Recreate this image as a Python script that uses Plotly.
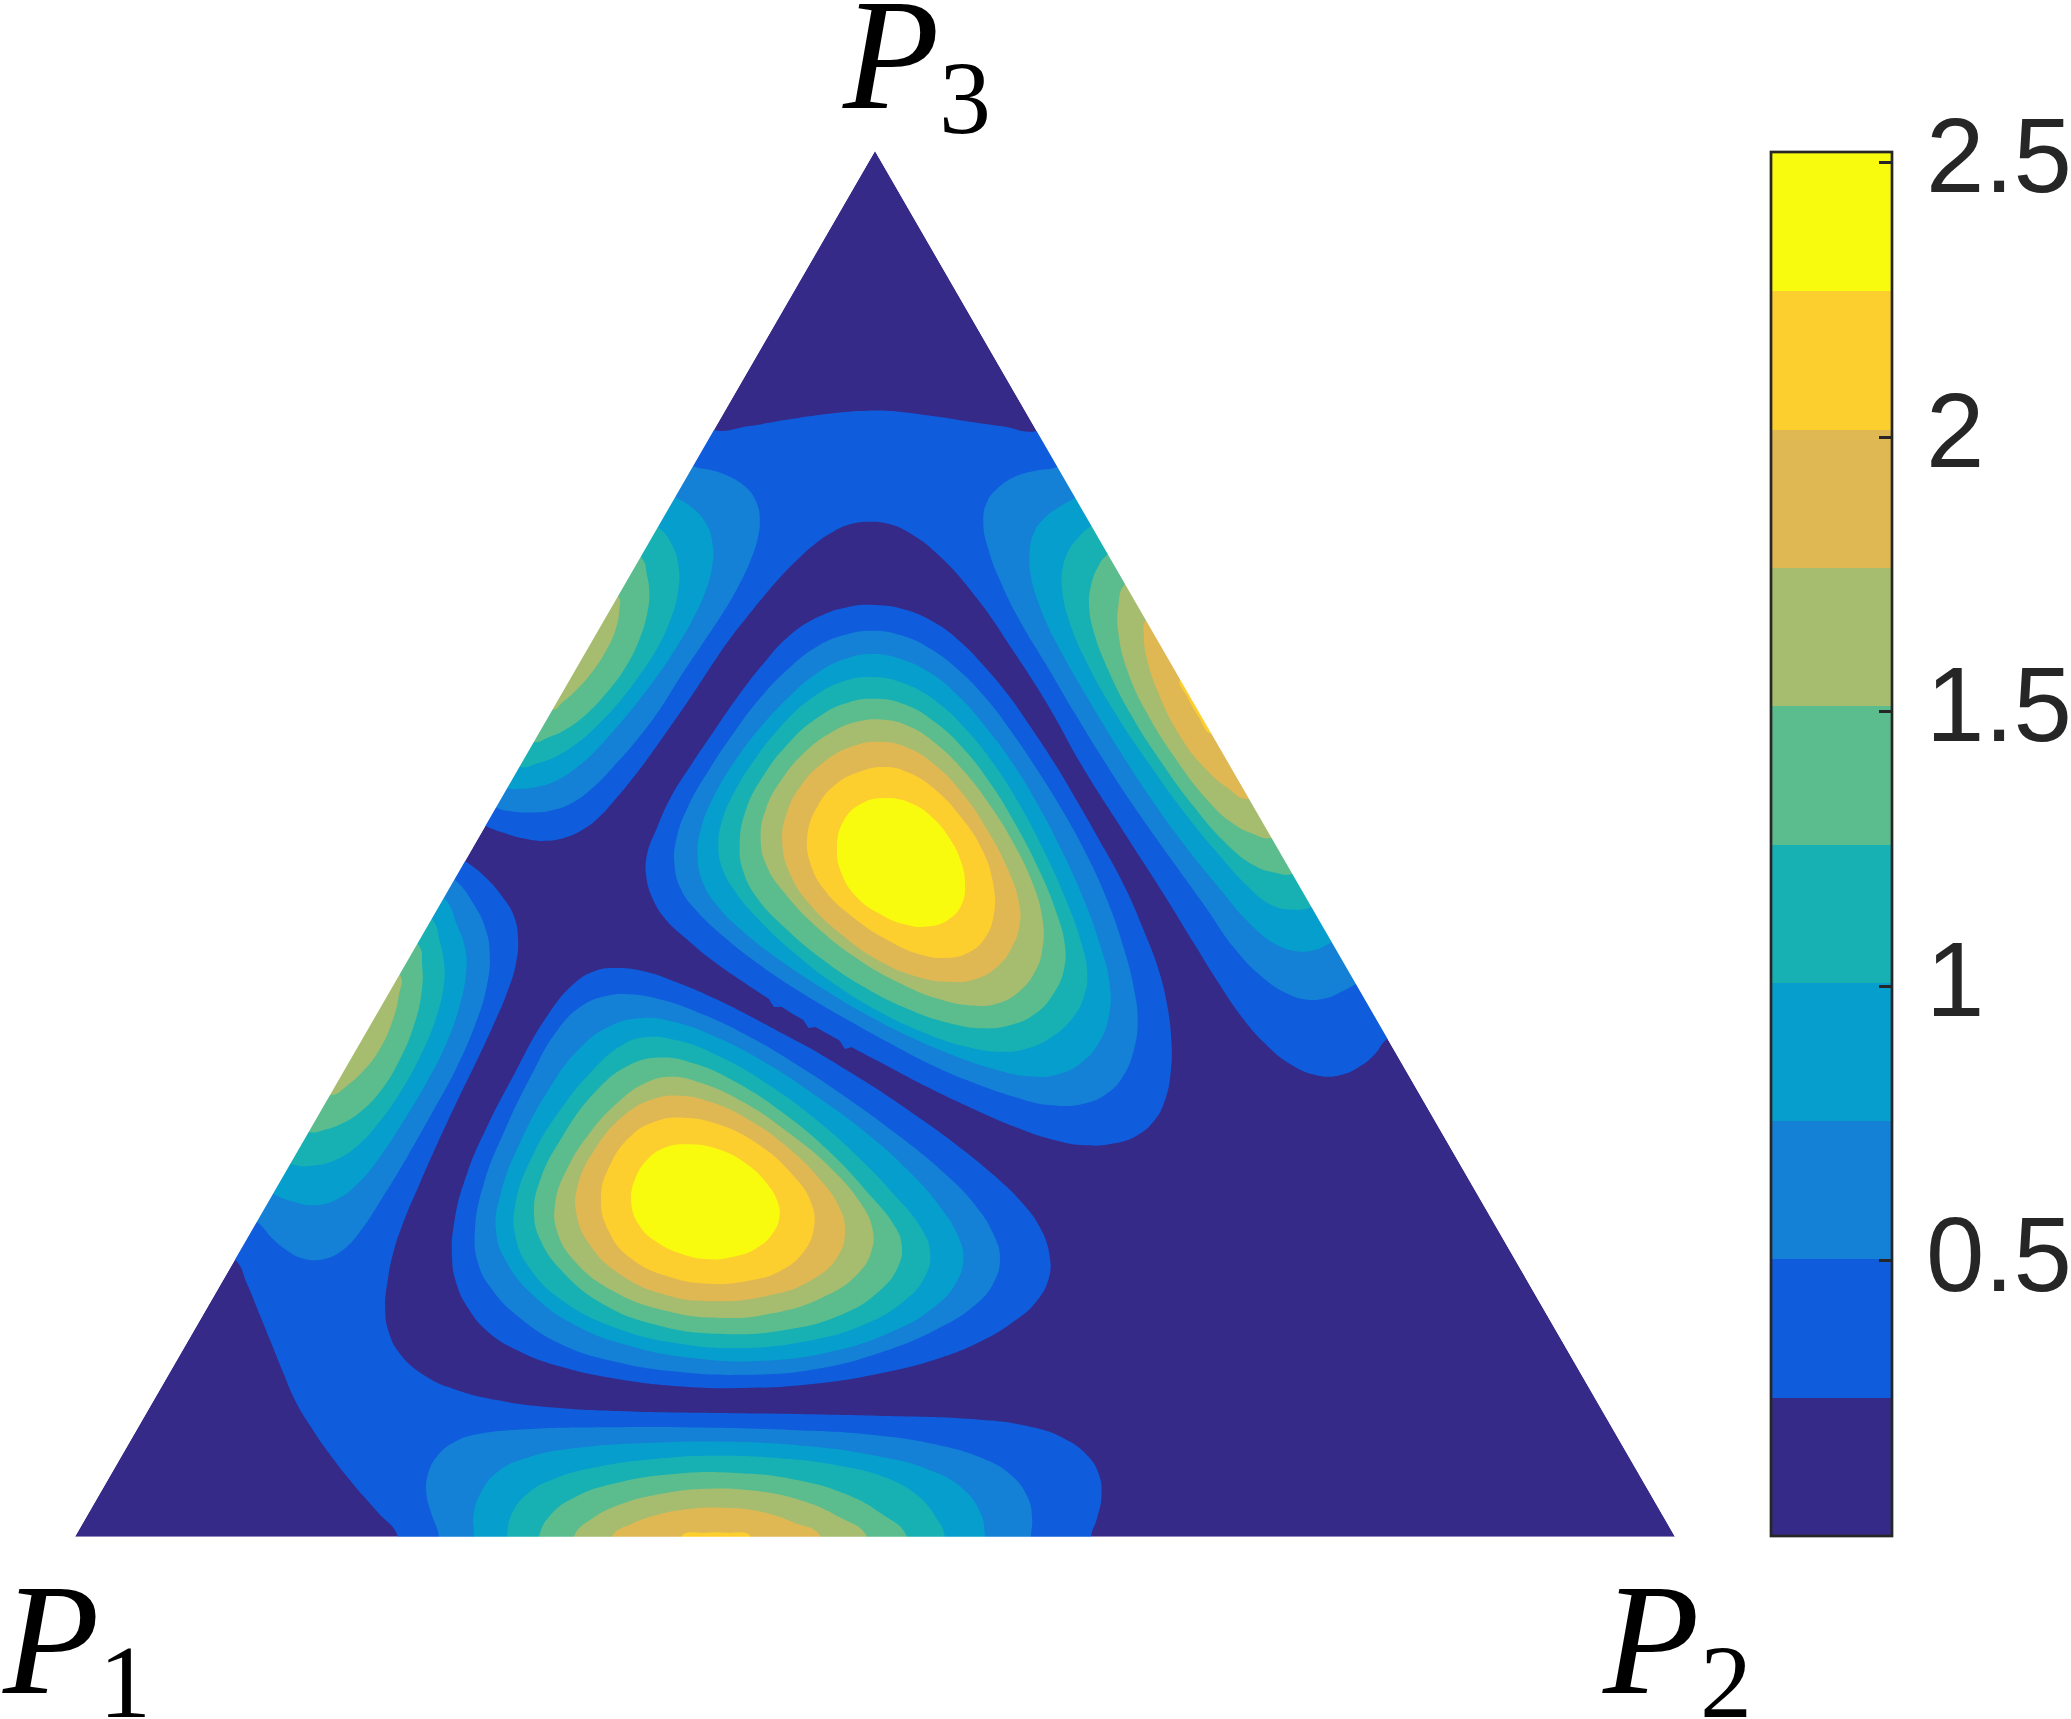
import plotly.graph_objects as go

# Outlines; axis units equal reference pixels (y grows downward).
TRIANGLE = [(75, 1536.7), (1675, 1536.7), (875, 151)]
BAND_COLORS = ["#352a87", "#0f5cdd", "#1481d6", "#069fcd", "#17b1b4",
               "#5bbd8e", "#a6bd6f", "#e0b853", "#fdcf2e", "#f9fb0e"]
BAND_EDGES = [-0.002, 0.25, 0.502, 0.754, 1.006, 1.258, 1.51, 1.762, 2.014, 2.266, 2.52]
TICK_VALUES = [0.5, 1, 1.5, 2, 2.5]
TICK_TEXT = ["0.5", "1", "1.5", "2", "2.5"]
TICK_BASELINES = [1290.7, 1016, 741.5, 466.7, 191.7]

# level 1, upper band (two open arcs)
A1_TOP = [(714, 430), (747, 427), (783, 420), (830, 413), (870, 410), (897, 411), (933, 416),
          (977, 423), (1000, 426), (1037, 431)]
A1_INNER = [(1387, 1039), (1375, 1055), (1362, 1066), (1340, 1077), (1317, 1077), (1290, 1066),
            (1263, 1043), (1240, 1016), (1217, 981), (1193, 942), (1167, 899), (1143, 862),
            (1117, 821), (1083, 770), (1047, 701), (1013, 651), (980, 600), (940, 554),
            (910, 532), (890, 523), (870, 521), (850, 523), (830, 533), (813, 545), (797, 560),
            (780, 577), (763, 597), (747, 617), (730, 638), (713, 663), (697, 688), (680, 713),
            (663, 737), (647, 760), (630, 782), (613, 802), (600, 817), (587, 828), (567, 838),
            (547, 842), (523, 839), (503, 833), (486, 826)]
# level 1, lower band (two open arcs)
B1_INNER = [(465, 861), (487, 877), (503, 897), (515, 915), (519, 936), (517, 965), (507, 994),
            (493, 1026), (477, 1061), (457, 1101), (437, 1144), (420, 1183), (403, 1222),
            (393, 1251), (387, 1283), (384, 1308), (388, 1333), (397, 1354), (428, 1380),
            (455, 1390), (496, 1401), (549, 1408), (631, 1412), (719, 1413), (807, 1414),
            (889, 1416), (971, 1418), (1030, 1425), (1065, 1437), (1089, 1455), (1100, 1473),
            (1103, 1495), (1097, 1520), (1091, 1536.7)]
B1_OUTER = [(398, 1536.7), (378, 1512), (355, 1487), (331, 1457), (308, 1423), (294, 1400),
            (283, 1372), (270, 1340), (257, 1308), (247, 1283), (235.5, 1260)]

# upper-left lobe on the P1-P3 edge, levels 2..6
UL2 = [(693, 466), (713, 470), (732, 477), (747, 487), (757, 500), (761, 520), (758, 540),
       (750, 563), (737, 590), (720, 618), (703, 643), (683, 672), (657, 715), (637, 740),
       (617, 763), (597, 785), (573, 804), (553, 811), (530, 813), (512, 812), (497, 808)]
UL3 = [(675, 497), (693, 507), (708, 523), (714, 547), (713, 565), (707, 590), (693, 620),
       (677, 647), (657, 677), (637, 703), (617, 727), (597, 750), (577, 768), (557, 782),
       (533, 788), (520, 789), (507, 788)]
UL4 = [(658, 527), (673, 543), (680, 567), (679, 593), (670, 623), (657, 650), (640, 675),
       (620, 702), (600, 723), (580, 742), (557, 757), (537, 764), (520, 767)]
UL5 = [(641, 557), (648, 577), (650, 593), (648, 613), (640, 640), (627, 667), (607, 693),
       (587, 715), (563, 732), (547, 738), (534, 742)]
UL6 = [(618, 596), (620, 610), (617, 628), (607, 650), (593, 672), (577, 690), (563, 702),
       (552, 710)]

# lower-left lobe on the P1-P3 edge, levels 2..6
LL2 = [(455, 880), (475, 904), (487, 929), (491, 954), (488, 986), (477, 1022), (457, 1069),
       (433, 1111), (407, 1158), (383, 1197), (360, 1233), (344, 1251), (323, 1261), (303, 1260),
       (287, 1251), (273, 1240), (257, 1222)]
LL3 = [(444, 898), (458, 926), (467, 951), (467, 972), (460, 1008), (447, 1044), (427, 1083),
       (403, 1122), (380, 1158), (357, 1186), (337, 1201), (315, 1207), (292, 1202), (273, 1194)]
LL4 = [(432, 919), (440, 940), (445, 965), (445, 983), (437, 1019), (420, 1058), (400, 1094),
       (380, 1122), (358, 1147), (338, 1160), (315, 1167), (291, 1164)]
LL5 = [(418, 944), (423, 965), (423, 990), (415, 1026), (400, 1061), (380, 1094), (360, 1113),
       (343, 1124), (323, 1131), (309, 1132)]
LL6 = [(400, 975), (400, 994), (393, 1022), (380, 1051), (363, 1072), (348, 1086), (330, 1095)]

# right lobe on the P2-P3 edge, levels 2..8
R2 = [(1057, 467), (1037, 470), (1013, 476), (997, 488), (985, 502), (982, 522), (987, 548),
      (1000, 582), (1020, 623), (1047, 665), (1073, 711), (1107, 766), (1140, 816), (1173, 862),
      (1207, 908), (1233, 949), (1260, 977), (1287, 995), (1307, 1001), (1327, 999), (1343, 991),
      (1356, 984)]
R3 = [(1075, 498), (1060, 506), (1043, 518), (1033, 532), (1029, 550), (1029, 573), (1040, 610),
      (1060, 651), (1087, 697), (1117, 747), (1150, 798), (1183, 844), (1217, 885), (1250, 926),
      (1277, 947), (1297, 952), (1313, 952), (1332, 942)]
R4 = [(1091, 526), (1077, 538), (1067, 552), (1062, 568), (1061, 587), (1067, 619), (1087, 665),
      (1113, 711), (1147, 761), (1183, 812), (1217, 853), (1250, 890), (1270, 906), (1290, 911),
      (1312, 907)]
R5 = [(1108, 554), (1097, 566), (1090, 587), (1088, 605), (1093, 633), (1107, 669), (1130, 715),
      (1160, 761), (1193, 807), (1227, 846), (1253, 867), (1277, 874), (1292, 874)]
R6 = [(1125, 584), (1117, 605), (1117, 633), (1127, 674), (1147, 715), (1173, 756), (1207, 802),
      (1233, 825), (1253, 835), (1272, 838)]
R7 = [(1146, 620), (1143, 633), (1145, 655), (1157, 692), (1177, 734), (1203, 768), (1227, 789),
      (1249, 799)]
R8 = [(1180, 679), (1187, 697), (1198, 717), (1212, 734)]

# bottom lobe on the P1-P2 edge, levels 2..8
BT2 = [(439, 1536.7), (431, 1513), (425, 1493), (427, 1473), (436, 1455), (455, 1440), (478, 1433),
       (519, 1429), (601, 1427), (701, 1427), (795, 1430), (866, 1433), (936, 1443), (983, 1457),
       (1012, 1473), (1030, 1497), (1033, 1520), (1031, 1536.7)]
BT3 = [(474, 1536.7), (472, 1513), (481, 1490), (496, 1470), (525, 1457), (572, 1447), (654, 1442),
       (731, 1441), (807, 1445), (877, 1455), (930, 1468), (965, 1487), (983, 1513), (985, 1536.7)]
BT4 = [(507, 1536.7), (510, 1513), (525, 1493), (555, 1477), (596, 1466), (660, 1458), (707, 1455),
       (778, 1457), (842, 1465), (889, 1477), (918, 1493), (939, 1520), (945, 1536.7)]
BT5 = [(539, 1536.7), (549, 1513), (572, 1497), (613, 1482), (678, 1472), (736, 1472), (795, 1478),
       (848, 1493), (883, 1513), (907, 1536.7)]
BT6 = [(574, 1536.7), (590, 1518), (619, 1503), (666, 1492), (707, 1488), (748, 1489), (801, 1498),
       (842, 1517), (867, 1536.7)]
BT7 = [(612, 1536.7), (631, 1523), (654, 1515), (689, 1508), (725, 1507), (760, 1510), (795, 1522),
       (821, 1536.7)]
BT8 = [(681, 1536.7), (707, 1532), (725, 1532), (751, 1536.7)]

# closed upper centre peak, levels 1..9
C1 = [(873, 604), (905, 608), (934, 621), (959, 639), (987, 669), (1009, 695), (1030, 726),
      (1055, 763), (1080, 806), (1105, 850), (1126, 887), (1144, 931), (1159, 968), (1168, 1005),
      (1172, 1042), (1172, 1068), (1166, 1102), (1155, 1122), (1137, 1137), (1116, 1144),
      (1087, 1147), (1051, 1140), (1016, 1128), (973, 1109), (926, 1087), (878, 1061), (844, 1043),
      (808, 1023), (775, 1003), (737, 978), (712, 961), (684, 937), (664, 919),
      (653, 902), (645, 876), (645, 856), (657, 828), (669, 798), (691, 765), (716, 728),
      (737, 697), (762, 665), (787, 635), (819, 615), (848, 606)]
# three small notches on the lower rim of the upper peak
C1_NOTCHES = [[(768, 998), (782, 1007), (774, 1007)],
              [(802, 1018), (816, 1027), (808.5, 1028)],
              [(838, 1038), (852, 1047), (845, 1049)]]
C2 = [(873, 629), (901, 634), (930, 647), (959, 669), (987, 698), (1012, 732), (1037, 769),
      (1062, 809), (1087, 854), (1109, 902), (1125, 950), (1135, 991), (1139, 1020), (1135, 1050),
      (1125, 1076), (1109, 1094), (1087, 1105), (1051, 1107), (1016, 1098), (973, 1083), (930, 1065),
      (887, 1042), (844, 1018), (801, 993), (759, 965), (723, 937), (694, 909), (680, 891), (673, 865),
      (675, 839), (687, 806), (709, 769), (734, 732), (759, 698), (787, 669), (816, 645), (844, 634)]
C3 = [(873, 652), (901, 658), (930, 671), (959, 695), (987, 728), (1012, 761), (1037, 802),
      (1062, 850), (1084, 898), (1101, 946), (1112, 987), (1110, 1017), (1101, 1042), (1084, 1063),
      (1059, 1076), (1030, 1078), (994, 1070), (951, 1055), (909, 1037), (866, 1015), (823, 989),
      (780, 961), (741, 931), (716, 906), (701, 883), (696, 854), (700, 828), (712, 798), (734, 761),
      (759, 728), (787, 698), (816, 672), (844, 658)]
C4 = [(873, 675), (905, 682), (937, 700), (966, 728), (994, 763), (1019, 802), (1044, 850),
      (1066, 898), (1082, 943), (1089, 972), (1085, 998), (1073, 1020), (1051, 1039), (1026, 1050),
      (1001, 1053), (966, 1048), (923, 1033), (880, 1013), (837, 987), (794, 954), (755, 917),
      (734, 891), (721, 869), (717, 846), (721, 820), (734, 791), (755, 758), (780, 726), (809, 698),
      (841, 680)]
C5 = [(873, 697), (905, 702), (937, 722), (966, 750), (991, 783), (1016, 824), (1041, 872),
      (1057, 913), (1066, 943), (1066, 968), (1055, 994), (1037, 1015), (1012, 1026), (984, 1030),
      (948, 1024), (905, 1009), (862, 987), (823, 961), (784, 928), (755, 898), (742, 872), (738, 846),
      (744, 809), (762, 776), (787, 743), (816, 717), (844, 702)]
C6 = [(880, 718), (909, 724), (937, 743), (966, 772), (991, 806), (1012, 839), (1034, 883),
      (1044, 920), (1044, 946), (1037, 972), (1019, 994), (998, 1005), (973, 1007), (937, 1000),
      (898, 983), (859, 961), (819, 931), (784, 894), (764, 865), (759, 839), (764, 809), (780, 780),
      (805, 750), (830, 732), (855, 721)]
C7 = [(880, 740), (909, 746), (937, 765), (962, 791), (987, 828), (1009, 869), (1021, 906),
      (1021, 924), (1012, 950), (998, 968), (976, 981), (948, 983), (916, 978), (876, 961), (841, 935),
      (809, 906), (789, 876), (780, 843), (785, 813), (801, 783), (823, 761), (851, 745)]
C8 = [(884, 765), (909, 771), (937, 789), (962, 817), (984, 850), (994, 880), (996, 917), (985, 941),
      (969, 954), (948, 959), (923, 957), (887, 941), (851, 917), (823, 891), (809, 865), (805, 835),
      (816, 806), (834, 783), (859, 771)]
C9 = [(887, 796), (912, 802), (934, 817), (951, 839), (962, 861), (966, 883), (964, 904), (951, 920),
      (930, 928), (905, 926), (880, 915), (855, 898), (841, 876), (835, 850), (841, 820), (859, 802)]

# closed lower centre peak, levels 1..9
D1 = [(615, 967), (644, 970), (677, 982), (719, 1000), (752, 1017), (785, 1035), (818, 1052),
      (851, 1073), (884, 1093), (918, 1117), (955, 1143), (992, 1173), (1021, 1200), (1042, 1227),
      (1051, 1257), (1051, 1277), (1038, 1303), (1013, 1323), (980, 1343), (938, 1360), (876, 1375),
      (814, 1385), (743, 1389), (677, 1387), (619, 1380), (561, 1368), (520, 1353), (486, 1333),
      (468, 1310), (455, 1283), (451, 1260), (453, 1220), (466, 1173), (486, 1127), (515, 1073),
      (544, 1017), (575, 980), (594, 970)]
D2 = [(627, 993), (660, 998), (702, 1013), (752, 1037), (801, 1067), (851, 1100), (901, 1137),
      (942, 1170), (976, 1203), (996, 1237), (1002, 1257), (996, 1283), (976, 1307), (938, 1330),
      (884, 1353), (814, 1372), (743, 1376), (677, 1373), (615, 1363), (561, 1347), (520, 1320),
      (490, 1290), (476, 1263), (473, 1233), (482, 1183), (503, 1133), (532, 1073), (557, 1027),
      (582, 1003), (607, 995)]
D3 = [(640, 1016), (673, 1020), (719, 1037), (768, 1063), (818, 1097), (868, 1133), (909, 1170),
      (942, 1207), (961, 1240), (965, 1257), (959, 1283), (934, 1310), (893, 1333), (835, 1353),
      (764, 1363), (694, 1360), (627, 1347), (573, 1327), (532, 1297), (505, 1263), (493, 1233),
      (499, 1193), (520, 1140), (549, 1087), (578, 1047), (607, 1025)]
D4 = [(640, 1036), (677, 1038), (719, 1055), (768, 1083), (818, 1120), (859, 1157), (897, 1197),
      (924, 1230), (932, 1250), (928, 1277), (905, 1303), (864, 1327), (806, 1343), (739, 1350),
      (677, 1345), (615, 1330), (561, 1303), (528, 1270), (513, 1237), (513, 1203), (532, 1153),
      (561, 1107), (594, 1067), (623, 1043)]
D5 = [(660, 1055), (694, 1062), (735, 1080), (785, 1113), (830, 1150), (872, 1197), (897, 1227),
      (903, 1243), (901, 1267), (880, 1293), (843, 1317), (785, 1332), (719, 1336), (656, 1327),
      (602, 1307), (561, 1273), (538, 1240), (532, 1213), (538, 1180), (561, 1137), (594, 1090),
      (627, 1063)]
D6 = [(669, 1074), (702, 1082), (743, 1100), (793, 1135), (835, 1170), (862, 1203), (874, 1227),
      (874, 1250), (859, 1277), (822, 1300), (772, 1315), (723, 1320), (665, 1313), (611, 1293),
      (573, 1263), (555, 1233), (553, 1203), (565, 1170), (590, 1130), (619, 1100), (644, 1082)]
D7 = [(677, 1094), (710, 1100), (752, 1120), (789, 1147), (822, 1180), (841, 1207), (847, 1230),
      (841, 1257), (814, 1282), (768, 1298), (710, 1303), (665, 1297), (619, 1277), (588, 1247),
      (574, 1213), (575, 1187), (594, 1147), (623, 1113), (652, 1098)]
D8 = [(681, 1116), (718, 1122), (760, 1143), (793, 1173), (814, 1203), (816, 1227), (806, 1253),
      (781, 1273), (748, 1282), (710, 1285), (673, 1280), (627, 1260), (607, 1233), (598, 1197),
      (607, 1167), (631, 1132), (656, 1120)]
D9 = [(685, 1143), (718, 1147), (748, 1163), (768, 1183), (779, 1203), (781, 1215), (774, 1235),
      (756, 1250), (735, 1257), (710, 1261), (681, 1255), (656, 1243), (638, 1227), (629, 1203),
      (634, 1177), (648, 1157), (663, 1147)]

OPEN_BY_LEVEL = {
    1: [[A1_TOP, A1_INNER], [B1_INNER, B1_OUTER]],
    2: [[UL2], [LL2], [R2], [BT2]],
    3: [[UL3], [LL3], [R3], [BT3]],
    4: [[UL4], [LL4], [R4], [BT4]],
    5: [[UL5], [LL5], [R5], [BT5]],
    6: [[UL6], [LL6], [R6], [BT6]],
    7: [[R7], [BT7]],
    8: [[R8], [BT8]],
}
CLOSED_BY_LEVEL = {
    1: [C1, D1], 2: [C2, D2], 3: [C3, D3], 4: [C4, D4], 5: [C5, D5],
    6: [C6, D6], 7: [C7, D7], 8: [C8, D8], 9: [C9, D9],
}


def steady_open(arc):
    """Take the hand-reading jitter out of an arc; its two ends stay on the triangle."""
    out = [arc[0]]
    for a, b, c in zip(arc, arc[1:], arc[2:]):
        out.append(((a[0] + 4 * b[0] + c[0]) / 6, (a[1] + 4 * b[1] + c[1]) / 6))
    return out + [arc[-1]]


def steady_closed(loop):
    n = len(loop)
    return [((loop[i - 1][0] + 4 * loop[i][0] + loop[(i + 1) % n][0]) / 6,
             (loop[i - 1][1] + 4 * loop[i][1] + loop[(i + 1) % n][1]) / 6) for i in range(n)]


def push(p, dist=45):
    """Move a point lying on a triangle side outward (the white mask hides what is past the side)."""
    x, y = p
    d_base = abs(y - 1536.7)
    d_left = abs((x - 875) * 0.866 + (y - 151) * 0.5)
    d_right = abs((x - 875) * 0.866 - (y - 151) * 0.5)
    if d_base <= d_left and d_base <= d_right:
        return (x, y + dist)
    if d_left <= d_right:
        return (x - 0.866 * dist, y - 0.5 * dist)
    return (x + 0.866 * dist, y - 0.5 * dist)


def open_region(arcs):
    arcs = [steady_open(a) for a in arcs]
    pts = []
    for i, arc in enumerate(arcs):
        nxt = arcs[(i + 1) % len(arcs)]
        pts += list(arc) + [push(arc[-1]), push(nxt[0])]
    return pts + [pts[0]]


def add_region(fig, pts, color, spline=True):
    fig.add_trace(go.Scatter(
        x=[p[0] for p in pts], y=[p[1] for p in pts], mode="lines", fill="toself",
        fillcolor=color, hoverinfo="skip", showlegend=False,
        line=dict(width=0, color=color, shape="spline" if spline else "linear", smoothing=1.3),
    ))


fig = go.Figure()
add_region(fig, TRIANGLE + TRIANGLE[:1], BAND_COLORS[0], spline=False)
for level in range(1, 10):
    for arcs in OPEN_BY_LEVEL.get(level, []):
        add_region(fig, open_region(arcs), BAND_COLORS[level])
    for outline in CLOSED_BY_LEVEL[level]:
        loop = steady_closed(outline)
        add_region(fig, loop + [loop[0]], BAND_COLORS[level])
    if level == 1:
        for notch in C1_NOTCHES:
            add_region(fig, notch + notch[:1], BAND_COLORS[1], spline=False)

# colour bar
zmin, zmax = BAND_EDGES[0], BAND_EDGES[-1]
scale = []
for i, c in enumerate(BAND_COLORS):
    scale.append([(BAND_EDGES[i] - zmin) / (zmax - zmin), c])
    scale.append([(BAND_EDGES[i + 1] - zmin) / (zmax - zmin), c])
fig.add_trace(go.Scatter(
    x=[None], y=[None], mode="markers", showlegend=False, hoverinfo="skip",
    marker=dict(
        color=[0], cmin=zmin, cmax=zmax, colorscale=scale, showscale=True,
        colorbar=dict(
            thicknessmode="pixels", thickness=120.5, lenmode="pixels", len=1384,
            xref="paper", yref="paper", xanchor="left", yanchor="top",
            x=1770.5 / 2071, y=(1719 - 152) / 1719, xpad=0, ypad=0,
            outlinewidth=2.7, outlinecolor="#262626", borderwidth=0,
            tickmode="array", tickvals=TICK_VALUES, ticktext=TICK_TEXT,
            ticks="inside", ticklen=14, tickwidth=3, tickcolor="#262626",
            showticklabels=False,
        ),
    ),
))

annotations = []
# colour-bar tick labels
for text, base in zip(TICK_TEXT, TICK_BASELINES):
    annotations.append(dict(
        text=text, x=1926 / 2071, y=1 - (base - 0.905 * 105) / 1719, xref="paper", yref="paper",
        showarrow=False, xanchor="left", yanchor="top", borderpad=0, borderwidth=0,
        font=dict(family="Liberation Sans", size=105, color="#262626"),
    ))
# vertex labels
LABELS = [("<i>P</i>", 2, 1693, 158), ("1", 99, 1717, 104),
          ("<i>P</i>", 1602, 1693, 158), ("2", 1700, 1717, 104),
          ("<i>P</i>", 842, 108, 158), ("3", 939, 133, 104)]
for text, x, base, size in LABELS:
    annotations.append(dict(
        text=text, x=x / 2071, y=1 - (base - 0.891 * size) / 1719, xref="paper", yref="paper",
        showarrow=False, xanchor="left", yanchor="top", borderpad=0, borderwidth=0,
        font=dict(family="Liberation Serif", size=size, color="#000000"),
    ))

tx = [p[0] for p in TRIANGLE]
ty = [p[1] for p in TRIANGLE]
mask = (f"M 0 0 L 1745 0 L 1745 1719 L 0 1719 Z "
        f"M {tx[0]} {ty[0]} L {tx[1]} {ty[1]} L {tx[2]} {ty[2]} Z")
fig.update_layout(
    width=2071, height=1719, margin=dict(l=0, r=0, t=0, b=0),
    paper_bgcolor="white", plot_bgcolor="white", showlegend=False,
    xaxis=dict(range=[0, 2071], visible=False, fixedrange=True),
    yaxis=dict(range=[1719, 0], visible=False, fixedrange=True),
    annotations=annotations,
    shapes=[dict(type="path", path=mask, xref="x", yref="y", layer="above",
                 fillcolor="white", fillrule="evenodd", line=dict(width=0))],
)
fig.write_html("out.html", config={"displayModeBar": False},
               post_script="document.body.style.margin='0';document.documentElement.style.overflow='hidden';")
